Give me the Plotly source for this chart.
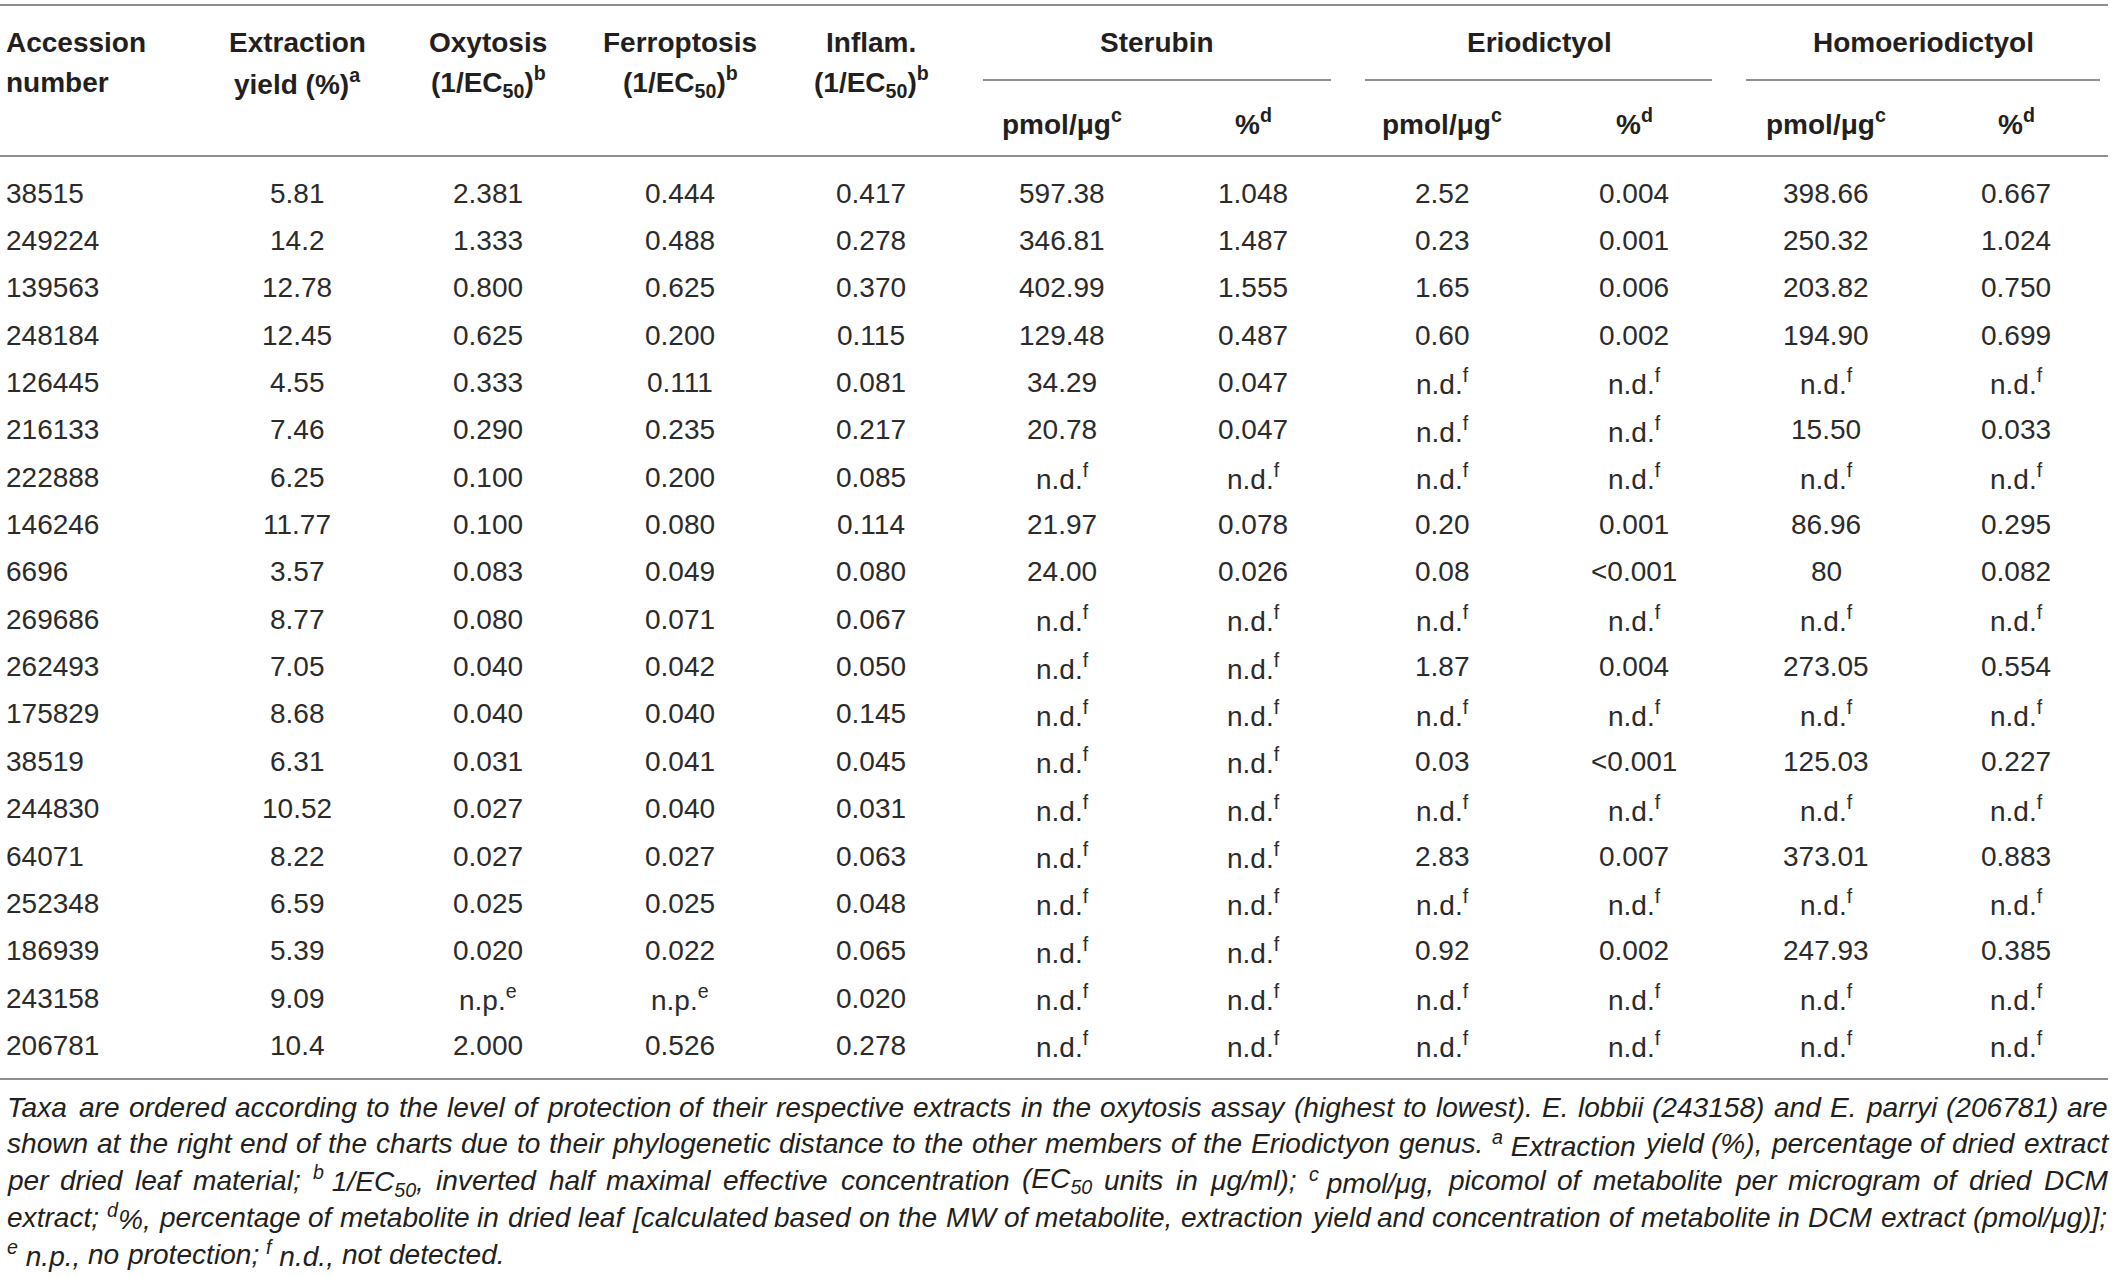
import re
import plotly.graph_objects as go

# ---------------- data ----------------
accession = ["38515", "249224", "139563", "248184", "126445", "216133", "222888",
             "146246", "6696", "269686", "262493", "175829", "38519", "244830",
             "64071", "252348", "186939", "243158", "206781"]
yield_pct = ["5.81", "14.2", "12.78", "12.45", "4.55", "7.46", "6.25", "11.77", "3.57",
             "8.77", "7.05", "8.68", "6.31", "10.52", "8.22", "6.59", "5.39", "9.09", "10.4"]
oxytosis = ["2.381", "1.333", "0.800", "0.625", "0.333", "0.290", "0.100", "0.100", "0.083",
            "0.080", "0.040", "0.040", "0.031", "0.027", "0.027", "0.025", "0.020", "n.p.", "2.000"]
ferroptosis = ["0.444", "0.488", "0.625", "0.200", "0.111", "0.235", "0.200", "0.080", "0.049",
               "0.071", "0.042", "0.040", "0.041", "0.040", "0.027", "0.025", "0.022", "n.p.", "0.526"]
inflam = ["0.417", "0.278", "0.370", "0.115", "0.081", "0.217", "0.085", "0.114", "0.080",
          "0.067", "0.050", "0.145", "0.045", "0.031", "0.063", "0.048", "0.065", "0.020", "0.278"]
ND = "n.d."
sterubin_pmol = ["597.38", "346.81", "402.99", "129.48", "34.29", "20.78", ND, "21.97", "24.00",
                 ND, ND, ND, ND, ND, ND, ND, ND, ND, ND]
sterubin_pct = ["1.048", "1.487", "1.555", "0.487", "0.047", "0.047", ND, "0.078", "0.026",
                ND, ND, ND, ND, ND, ND, ND, ND, ND, ND]
erio_pmol = ["2.52", "0.23", "1.65", "0.60", ND, ND, ND, "0.20", "0.08",
             ND, "1.87", ND, "0.03", ND, "2.83", ND, "0.92", ND, ND]
erio_pct = ["0.004", "0.001", "0.006", "0.002", ND, ND, ND, "0.001", "<0.001",
            ND, "0.004", ND, "<0.001", ND, "0.007", ND, "0.002", ND, ND]
homo_pmol = ["398.66", "250.32", "203.82", "194.90", ND, "15.50", ND, "86.96", "80",
             ND, "273.05", ND, "125.03", ND, "373.01", ND, "247.93", ND, ND]
homo_pct = ["0.667", "1.024", "0.750", "0.699", ND, "0.033", ND, "0.295", "0.082",
            ND, "0.554", ND, "0.227", ND, "0.883", ND, "0.385", ND, ND]

header_main = [
    ("Accession", "number"),
    ("Extraction", "yield (%)<sup>a</sup>"),
    ("Oxytosis", "(1/EC<sub>50</sub>)<sup>b</sup>"),
    ("Ferroptosis", "(1/EC<sub>50</sub>)<sup>b</sup>"),
    ("Inflam.", "(1/EC<sub>50</sub>)<sup>b</sup>"),
]
groups = ["Sterubin", "Eriodictyol", "Homoeriodictyol"]
sub_headers = ["pmol/\u03bcg<sup>c</sup>", "%<sup>d</sup>"]

footnote_lines = [
    "Taxa are ordered according to the level of protection of their respective extracts in the oxytosis assay (highest to lowest). E. lobbii (243158) and E. parryi (206781) are",
    "shown at the right end of the charts due to their phylogenetic distance to the other members of the Eriodictyon genus. <sup>a</sup> Extraction yield (%), percentage of dried extract",
    "per dried leaf material; <sup>b</sup> 1/EC<sub>50</sub>, inverted half maximal effective concentration (EC<sub>50</sub> units in \u03bcg/ml); <sup>c</sup> pmol/\u03bcg, picomol of metabolite per microgram of dried DCM",
    "extract; <sup>d</sup>%, percentage of metabolite in dried leaf [calculated based on the MW of metabolite, extraction yield and concentration of metabolite in DCM extract (pmol/\u03bcg)];",
    "<sup>e</sup> n.p., no protection; <sup>f</sup> n.d., not detected.",
]

columns = [accession, yield_pct, oxytosis, ferroptosis, inflam,
           sterubin_pmol, sterubin_pct, erio_pmol, erio_pct, homo_pmol, homo_pct]

# ---------------- geometry (screen pixels of the 2119 x 1277 window) ----------------
W, H = 2119, 1277
col_x = [6, 297, 488, 680, 871, 1062, 1253, 1442, 1634, 1826, 2016]
group_center = [1157, 1539, 1923]
group_span = [(983, 1331), (1365, 1712), (1746, 2100)]
row_y0, row_dy = 193, 47.36
TXT = "#231f20"
BODY_TXT = "#2b2b2b"
LINE = "#8f8f8f"
FONT = "Liberation Sans, Arial, sans-serif"
FS_HEAD, FS_BODY = 28, 28
FOOT_LEFT, FOOT_RIGHT = 7, 2108
FOOT_Y0, FOOT_DY = 1107, 36.8

# Arial / Liberation Sans advance widths (1/1000 em) for text justification
_AW = {" ": 278, "!": 278, "%": 889, "'": 191, "(": 333, ")": 333, ",": 278, "-": 333,
       ".": 278, "/": 278, ":": 278, ";": 278, "<": 584, "[": 278, "]": 278, "\u03bc": 576}
for ch in "0123456789":
    _AW[ch] = 556
_AW.update(dict(zip("ABCDEFGHIJKLMNOPQRSTUVWXYZ",
                    [667, 667, 722, 722, 667, 611, 778, 722, 278, 500, 667, 556, 833,
                     722, 778, 667, 778, 722, 667, 611, 722, 667, 944, 667, 667, 611])))
_AW.update(dict(zip("abcdefghijklmnopqrstuvwxyz",
                    [556, 556, 500, 556, 556, 278, 556, 556, 222, 222, 500, 222, 833,
                     556, 556, 556, 556, 333, 500, 278, 556, 500, 722, 500, 500, 500])))


def em_width(s):
    total = 0.0
    for part in re.split(r"(<su[pb]>.*?</su[pb]>)", s):
        scale = 1.0
        m = re.match(r"<su[pb]>(.*?)</su[pb]>", part)
        if m:
            part, scale = m.group(1), 0.7
        total += sum(_AW.get(c, 556) for c in part) / 1000.0 * scale
    return total


def tokens(line):
    """split into words; a lone superscript marker sticks to the following word"""
    out, carry = [], ""
    for w in line.split(" "):
        if re.fullmatch(r"<sup>.*?</sup>", w):
            carry = w + " "
            continue
        out.append(carry + w)
        carry = ""
    return out


def fmt(v):
    if v == "n.d.":
        return "n.d.<sup>f</sup>"
    if v == "n.p.":
        return "n.p.<sup>e</sup>"
    return v


ann = []


def add(x, y, text, xanchor="center", size=FS_BODY, color=TXT):
    ann.append(dict(x=x, y=y, xref="x", yref="y", text=text, showarrow=False,
                    xanchor=xanchor, yanchor="middle", borderpad=0, borderwidth=0,
                    font=dict(family=FONT, size=size, color=color)))


# header
for i, (l1, l2) in enumerate(header_main):
    xa = "left" if i == 0 else "center"
    add(col_x[i], 42, "<b>" + l1 + "</b>", xa, FS_HEAD)
    add(col_x[i], 82, "<b>" + l2 + "</b>", xa, FS_HEAD)
for g, cx in zip(groups, group_center):
    add(cx, 42, "<b>" + g + "</b>", "center", FS_HEAD)
for k in range(3):
    for j, sh in enumerate(sub_headers):
        add(col_x[5 + 2 * k + j], 122, "<b>" + sh + "</b>", "center", FS_HEAD)

# body
for c, col in enumerate(columns):
    for r, v in enumerate(col):
        add(col_x[c], row_y0 + r * row_dy, fmt(v), "left" if c == 0 else "center",
            FS_BODY, BODY_TXT)

# footnote (justified except the last line)
widest = max(em_width(l) for l in footnote_lines[:-1])
fs_foot = round(min(29.0, (FOOT_RIGHT - FOOT_LEFT) * 0.995 / widest), 1)
for i, line in enumerate(footnote_lines):
    y = FOOT_Y0 + i * FOOT_DY
    words = tokens(line)
    wpx = [em_width(w) * fs_foot for w in words]
    if i == len(footnote_lines) - 1:
        gap = _AW[" "] / 1000.0 * fs_foot
    else:
        gap = (FOOT_RIGHT - FOOT_LEFT - sum(wpx)) / (len(words) - 1)
    x = FOOT_LEFT
    for w, wp in zip(words, wpx):
        add(x, y, "<i>" + w + "</i>", "left", fs_foot, TXT)
        x += wp + gap

# rules
shapes = []
for y in (5, 156, 1079):
    shapes.append(dict(type="line", xref="x", yref="y", x0=0, x1=FOOT_RIGHT, y0=y, y1=y,
                       line=dict(color=LINE, width=2)))
for x0, x1 in group_span:
    shapes.append(dict(type="line", xref="x", yref="y", x0=x0, x1=x1, y0=80, y1=80,
                       line=dict(color=LINE, width=2)))

fig = go.Figure()
fig.update_layout(
    width=W, height=H,
    margin=dict(l=0, r=0, t=0, b=0),
    paper_bgcolor="white", plot_bgcolor="white",
    xaxis=dict(range=[0, W], visible=False, fixedrange=True),
    yaxis=dict(range=[H, 0], visible=False, fixedrange=True),
    annotations=ann, shapes=shapes, showlegend=False,
)
fig.write_html("out.html",
               config={"displayModeBar": False, "staticPlot": True},
               post_script="document.body.style.margin='0';"
                           "document.body.style.overflow='hidden';")
